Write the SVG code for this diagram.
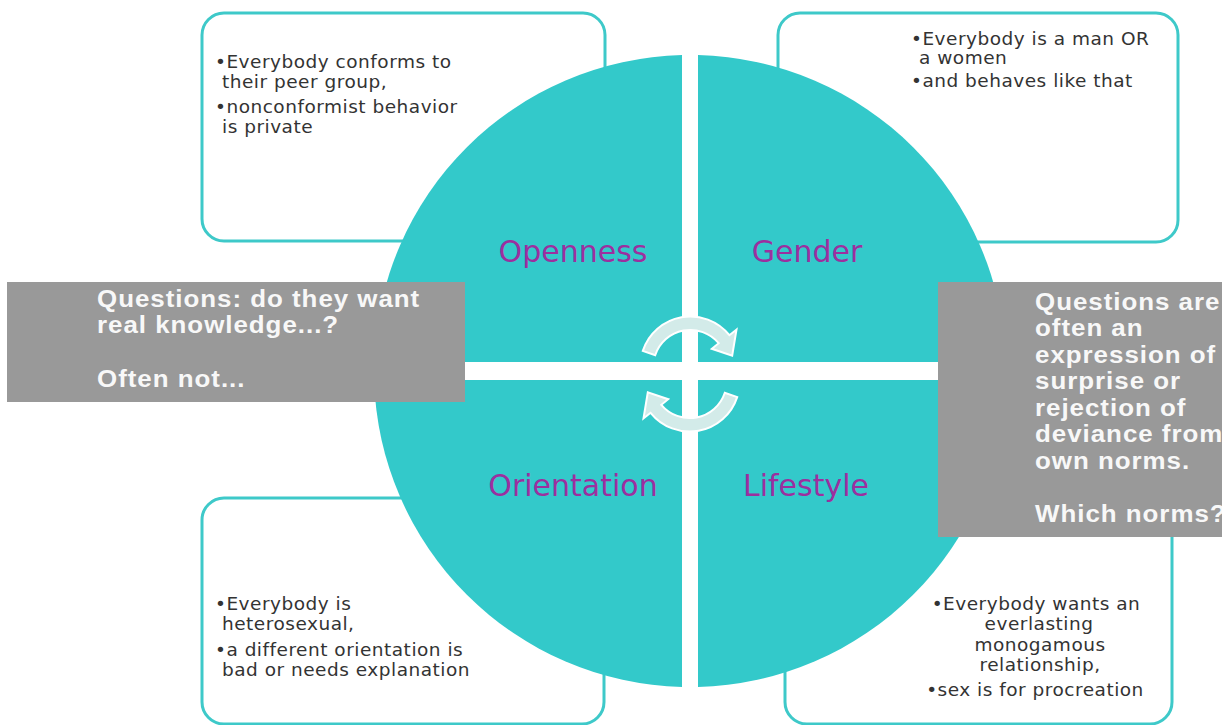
<svg xmlns="http://www.w3.org/2000/svg" width="1222" height="725" viewBox="0 0 1222 725">
<style>
.box{fill:#ffffff;stroke:#3ec9c9;stroke-width:3}
.quad{fill:#33c9ca}
.lbl{font-family:"DejaVu Sans",Verdana,sans-serif;font-size:30px;fill:#9c2f9f;text-anchor:middle}
.bt{font-family:"DejaVu Sans",Verdana,sans-serif;font-size:18.5px;fill:#333333;letter-spacing:0.5px}
.gray{fill:#999999}
.gt{font-family:"Liberation Sans",Arial,sans-serif;font-weight:bold;font-size:24px;fill:#f8f8f8;letter-spacing:0.9px}
.arr{fill:#d3ebe9;stroke:#ffffff;stroke-width:2}
</style>
<rect width="1222" height="725" fill="#ffffff"/>
<g id="box-openness">
<rect class="box" x="202" y="13" width="403" height="228" rx="22"/>
<text class="bt"><tspan x="215" y="68">•Everybody conforms to</tspan><tspan x="222" y="88">their peer group,</tspan><tspan x="215" y="113">•nonconformist behavior</tspan><tspan x="222" y="133">is private</tspan></text>
</g>
<g id="box-gender">
<rect class="box" x="778" y="13" width="400" height="229" rx="22"/>
<text class="bt"><tspan x="911" y="45">•Everybody  is a man OR</tspan><tspan x="919" y="64">a women</tspan><tspan x="911" y="87">•and behaves like that</tspan></text>
</g>
<g id="box-orientation">
<rect class="box" x="202" y="498" width="402" height="226" rx="22"/>
<text class="bt"><tspan x="215" y="610">•Everybody  is</tspan><tspan x="222" y="630">heterosexual,</tspan><tspan x="215" y="656">•a different orientation is</tspan><tspan x="222" y="676">bad or needs explanation</tspan></text>
</g>
<g id="box-lifestyle">
<rect class="box" x="785" y="498" width="387" height="226" rx="22"/>
<text class="bt" text-anchor="middle"><tspan x="1036" y="610">•Everybody  wants an</tspan><tspan x="1039" y="630">everlasting</tspan><tspan x="1040" y="651">monogamous</tspan><tspan x="1040" y="671">relationship,</tspan><tspan x="1035" y="696">•sex is for procreation</tspan></text>
</g>
<g id="quad-openness">
<path class="quad" d="M682 362 L682 55.1 A316 316 0 0 0 374.1 362 Z"/>
<text class="lbl" x="573" y="262">Openness</text>
</g>
<g id="quad-gender">
<path class="quad" d="M698 362 L698 55.1 A316 316 0 0 1 1005.9 362 Z"/>
<text class="lbl" x="807" y="262">Gender</text>
</g>
<g id="quad-orientation">
<path class="quad" d="M682 380 L374.1 380 A316 316 0 0 0 682 686.9 Z"/>
<text class="lbl" x="573" y="496">Orientation</text>
</g>
<g id="quad-lifestyle">
<path class="quad" d="M698 380 L698 686.9 A316 316 0 0 0 1005.9 380 Z"/>
<text class="lbl" x="806" y="496">Lifestyle</text>
</g>
<g id="connectors">
<path class="arr" d="M642.8 350.9 A50 50 0 0 1 729.4 335.2 L736.5 329.6 L732.2 355.7 L711.8 348.8 L718.7 343.2 A37 37 0 0 0 655.2 355.3 Z"/>
<path class="arr" transform="rotate(180 690 374)" d="M642.8 350.9 A50 50 0 0 1 729.4 335.2 L736.5 329.6 L732.2 355.7 L711.8 348.8 L718.7 343.2 A37 37 0 0 0 655.2 355.3 Z"/>
</g>
<g id="note-left">
<rect class="gray" x="7" y="282" width="458" height="120"/>
<text class="gt" transform="translate(97 0) scale(1.08 1)"><tspan x="0" y="307">Questions: do they want</tspan><tspan x="0" y="333">real knowledge...?</tspan><tspan x="0" y="387">Often not...</tspan></text>
</g>
<g id="note-right">
<rect class="gray" x="938" y="282" width="290" height="255"/>
<text class="gt" transform="translate(1035 0) scale(1.08 1)"><tspan x="0" y="310">Questions are</tspan><tspan x="0" y="336.5">often an</tspan><tspan x="0" y="363">expression of</tspan><tspan x="0" y="389.5">surprise or</tspan><tspan x="0" y="416">rejection of</tspan><tspan x="0" y="442.5">deviance from</tspan><tspan x="0" y="469">own norms.</tspan><tspan x="0" y="522">Which norms?</tspan></text>
</g>
</svg>
